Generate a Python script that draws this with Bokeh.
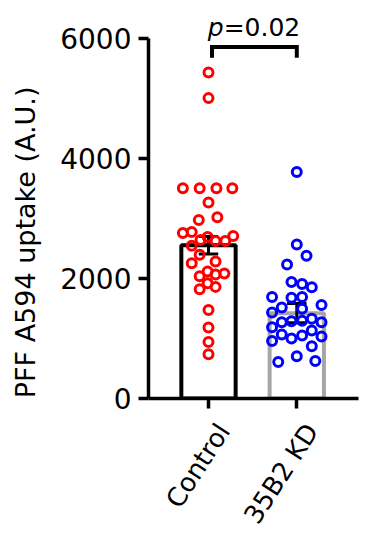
import math
from bokeh.plotting import figure
from bokeh.models import FixedTicker, Range1d, Label
from bokeh.embed import file_html
from bokeh.resources import INLINE

# ---- data ----
categories = ["Control", "35B2 KD"]
positions = [1, 2]
means = [2550, 1420]
sems = [145, 160]

control_values = [5426, 5000, 3500, 3500, 3500, 3500, 3262, 2972, 3016,
                  2754, 2770, 2705, 2639, 2689, 2623, 2623, 2541, 2393,
                  2251, 2279, 2115, 2033, 2082, 2066, 1918, 1820, 1858,
                  1475, 1180, 940, 738]
control_jitter = [0.0, 0.0, -0.29, -0.10, 0.09, 0.27, 0.0, -0.11, 0.10,
                  -0.29, -0.19, 0.28, -0.09, -0.01, 0.08, 0.19, -0.19, -0.10,
                  -0.19, 0.08, -0.01, -0.10, 0.18, 0.08, -0.01, -0.10, 0.08,
                  0.0, 0.0, 0.0, 0.0]

kd_values = [3770, 2563, 2377, 2230, 1940, 1907, 1852, 1689, 1678, 1689,
             1514, 1557, 1432, 1492, 1268, 1284, 1295, 1328, 1268, 1186,
             1131, 1066, 1000, 1049, 1033, 956, 869, 607, 705, 623]
kd_jitter = [0.0, 0.0, 0.11, -0.11, -0.06, 0.06, 0.17, -0.28, -0.06, 0.06,
             -0.17, 0.28, -0.28, 0.06, -0.17, -0.06, 0.06, 0.17, 0.28, -0.28,
             0.17, -0.17, -0.06, 0.06, 0.28, -0.28, 0.17, -0.21, 0.0, 0.21]

y_ticks = [0, 2000, 4000, 6000]
bar_line_colors = ["black", "#a6a6a6"]
point_colors = ["#ff0000", "#0000ff"]
bracket_x = [1.04, 1.04, 2.0, 2.0]
bracket_y = [5672, 5852, 5852, 5672]
p_italic = "p"
p_rest = "=0.02"
y_label = "PFF A594 uptake (A.U.)"

FONT = "DejaVu Sans"
NBSP = "\u00a0"

p = figure(width=366, height=550,
           x_range=Range1d(0.3205, 2.699), y_range=Range1d(0, 6625),
           output_backend="svg", toolbar_location=None,
           min_border_left=148, min_border_right=8,
           min_border_top=0, min_border_bottom=147)
p.outline_line_color = None
p.grid.visible = False
p.background_fill_color = "white"
p.border_fill_color = "white"

# bars
p.vbar(x=positions, top=means, width=0.615, bottom=0,
       fill_color="white", line_color=bar_line_colors, line_width=4)

# error bars
lower = [m - s for m, s in zip(means, sems)]
upper = [m + s for m, s in zip(means, sems)]
p.segment(x0=positions, y0=lower, x1=positions, y1=upper,
          line_color="black", line_width=3)
cap = 0.11
p.segment(x0=[x - cap for x in positions], y0=upper,
          x1=[x + cap for x in positions], y1=upper,
          line_color="black", line_width=3)
p.segment(x0=[x - cap for x in positions], y0=lower,
          x1=[x + cap for x in positions], y1=lower,
          line_color="black", line_width=3)

# points
p.scatter(x=[positions[0] + j for j in control_jitter], y=control_values,
          marker="circle", size=9, fill_alpha=0,
          line_color=point_colors[0], line_width=3)
p.scatter(x=[positions[1] + j for j in kd_jitter], y=kd_values,
          marker="circle", size=9, fill_alpha=0,
          line_color=point_colors[1], line_width=3)

# significance bracket
p.line(x=bracket_x, y=bracket_y, line_color="black", line_width=4,
       line_join="miter")
p.add_layout(Label(x=1.5, y=6000, x_offset=-29, y_offset=11, text=p_italic,
                   text_align="right", text_baseline="alphabetic",
                   text_font=FONT, text_font_style="italic",
                   text_font_size="25px", text_color="black"))
p.add_layout(Label(x=1.5, y=6000, x_offset=-29, y_offset=11, text=p_rest,
                   text_align="left", text_baseline="alphabetic",
                   text_font=FONT, text_font_size="25px", text_color="black"))

# axes
for ax in (p.xaxis[0], p.yaxis[0]):
    ax.axis_line_width = 3.5
    ax.axis_line_color = "black"
    ax.major_tick_line_width = 3.5
    ax.major_tick_line_color = "black"
    ax.major_tick_out = 10
    ax.major_tick_in = 0
    ax.minor_tick_line_color = None
    ax.major_label_text_font = FONT
    ax.major_label_text_color = "black"

p.yaxis.ticker = FixedTicker(ticks=y_ticks)
p.yaxis.bounds = (0, 6000)
p.yaxis.major_label_text_font_size = "28px"
p.yaxis.major_label_standoff = 7
# trailing no-break spaces push the centred label down to where the reference has it
p.yaxis.axis_label = y_label + NBSP * 10
p.yaxis.axis_label_text_font = FONT
p.yaxis.axis_label_text_font_style = "normal"
p.yaxis.axis_label_text_font_size = "27px"
p.yaxis.axis_label_text_color = "black"
p.yaxis.axis_label_standoff = 16

p.xaxis.ticker = FixedTicker(ticks=positions)
p.xaxis.major_label_overrides = {pos: "\n" + c for pos, c in zip(positions, categories)}
p.xaxis.major_label_orientation = 0.995
p.xaxis.major_label_text_font_size = "26px"
p.xaxis.major_label_standoff = 8

open("out.html", "w").write(file_html(p, INLINE))
